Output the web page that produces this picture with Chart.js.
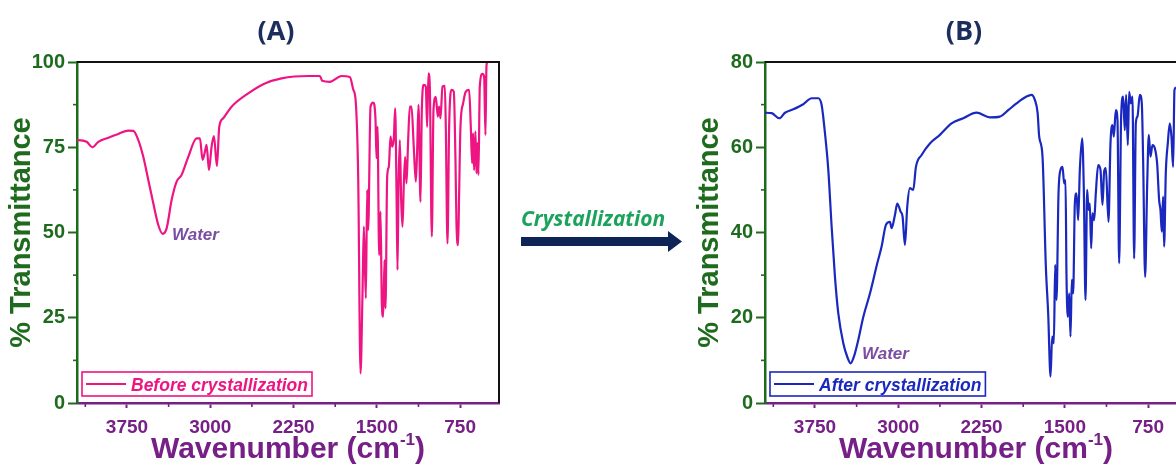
<!DOCTYPE html>
<html lang="en">
<head>
<meta charset="utf-8">
<title>FTIR spectra before and after crystallization</title>
<script src="https://cdn.jsdelivr.net/npm/chart.js@4.4.1/dist/chart.umd.min.js"></script>
<style>
    html, body { margin: 0; padding: 0; background: #fff; }
    body { width: 1176px; height: 465px; position: relative; overflow: hidden; }
    canvas { position: absolute; top: 0; }
    #chart-before { left: 0; }
    #chart-after { left: 688px; }
    #step { position: absolute; left: 500px; top: 190px; }
</style>
</head>
<body>
<canvas id="chart-before" width="520" height="465"></canvas>
<svg id="step" width="200" height="80" viewBox="0 0 200 80">
    <text x="21" y="36" font-family="'Open Sans', sans-serif" font-weight="bold" font-style="italic" font-size="21" fill="#1ba35b">Crystallization</text>
    <polygon points="21,47 168,47 168,41 182,51.5 168,62 168,56 21,56" fill="#0f2456"></polygon>
</svg>
<canvas id="chart-after" width="520" height="465"></canvas>
<script>
// —— Axes
const xMin = 400;
const xMax = 4200;
const xTicks = [3750, 3000, 2250, 1500, 750];
const xMinorTicks = [4125, 3375, 2625, 1875, 1125];

const yTicksBefore = [0, 25, 50, 75, 100];
const yMinorBefore = [12.5, 37.5, 62.5, 87.5];
const yTicksAfter = [0, 20, 40, 60, 80];
const yMinorAfter = [10, 30, 50, 70];

// —— Spectrum (A): before crystallization
const beforeWavenumber = [
    4200, 4188, 4113, 4062, 4008, 3918, 3828, 3738, 3693, 3648, 3603, 3558, 3513, 3468, 3429, 3393,
    3348, 3303, 3258, 3198, 3123, 3093, 3069, 3048, 3033, 3012, 2988, 2967, 2940, 2919, 2883, 2808,
    2658, 2508, 2358, 2118, 2013, 1992, 1923, 1818, 1743, 1713, 1689, 1668, 1647, 1629, 1617, 1599,
    1587, 1578, 1557, 1533, 1512, 1503, 1494, 1479, 1467, 1455, 1443, 1431, 1422, 1407, 1392, 1377,
    1362, 1347, 1335, 1323, 1314, 1305, 1293, 1281, 1269, 1257, 1245, 1233, 1218, 1203, 1188, 1167,
    1149, 1137, 1125, 1107, 1095, 1077, 1059, 1047, 1035, 1023, 1005, 990, 969, 951, 939, 927,
    909, 888, 879, 864, 849, 828, 807, 792, 783, 768, 759, 747, 723, 699, 669, 654,
    642, 633, 624, 612, 603, 594, 585, 573, 549, 534, 522, 513, 507,
];
const beforeTransmittance = [
    77.0, 77.1, 76.6, 75.0, 76.6, 77.8, 78.9, 79.9, 79.8, 77.1, 72.2, 65.4, 58.6, 52.2, 49.6, 51.2,
    59.5, 64.9, 66.9, 72.2, 77.6, 77.6, 71.3, 73.7, 75.7, 68.3, 75.2, 78.3, 69.5, 81.0, 83.5, 86.9,
    90.8, 93.7, 95.2, 95.9, 95.9, 94.5, 94.2, 95.9, 95.6, 92.0, 87.9, 66.4, 8.7, 32.2, 51.7, 30.7,
    62.5, 50.7, 86.9, 88.1, 83.0, 71.8, 81.0, 43.4, 56.1, 29.2, 25.3, 41.9, 27.8, 66.4, 69.3, 78.1,
    75.2, 77.6, 86.4, 62.5, 39.0, 63.4, 77.1, 59.5, 51.7, 64.4, 72.2, 64.4, 77.1, 86.9, 86.9, 74.7,
    64.9, 74.2, 87.4, 59.0, 85.9, 93.3, 92.8, 81.0, 96.7, 92.8, 48.8, 85.9, 89.8, 84.0, 86.9, 83.5,
    92.8, 93.0, 81.0, 46.8, 81.0, 91.8, 91.3, 71.3, 52.7, 46.3, 61.5, 81.0, 87.9, 91.3, 91.8, 81.0,
    70.3, 79.1, 68.3, 79.6, 67.4, 76.2, 66.9, 92.8, 96.5, 95.7, 78.6, 98.6, 100,
];

// —— Spectrum (B): after crystallization
const afterWavenumber = [
    4200, 4140, 4071, 4020, 3945, 3855, 3780, 3720, 3690, 3660, 3630, 3600, 3570, 3540, 3495, 3455,
    3430, 3400, 3360, 3315, 3255, 3189, 3150, 3111, 3075, 3060, 3030, 3009, 2979, 2961, 2940, 2919,
    2895, 2865, 2841, 2790, 2715, 2625, 2520, 2415, 2295, 2175, 2085, 2010, 1935, 1845, 1800, 1770,
    1745, 1731, 1701, 1671, 1650, 1629, 1614, 1599, 1587, 1575, 1557, 1539, 1521, 1506, 1494, 1485,
    1473, 1461, 1449, 1437, 1425, 1410, 1395, 1380, 1365, 1344, 1329, 1314, 1299, 1287, 1275, 1263,
    1251, 1236, 1221, 1200, 1179, 1161, 1146, 1131, 1107, 1089, 1071, 1059, 1041, 1026, 1011, 993,
    975, 960, 948, 933, 921, 906, 891, 876, 861, 846, 825, 807, 795, 777, 759, 744,
    729, 711, 690, 669, 651, 639, 627, 615, 606, 591, 573, 555, 540, 525, 513, 500,
];
const afterTransmittance = [
    68.1, 68.0, 66.8, 68.1, 68.9, 70.1, 71.5, 71.5, 69.9, 63.3, 54.7, 41.4, 29.6, 21.0, 14.0, 10.5,
    9.3, 10.8, 14.8, 20.2, 25.7, 32.8, 36.7, 41.8, 42.5, 41.0, 44.1, 46.8, 44.9, 43.7, 37.1, 46.1,
    50.4, 50.0, 55.4, 58.2, 60.9, 62.9, 65.6, 66.8, 68.1, 67.0, 67.2, 68.7, 70.3, 71.9, 72.3, 71.1,
    68.0, 62.5, 57.8, 32.0, 21.0, 6.2, 15.6, 14.0, 32.4, 24.2, 49.2, 54.7, 55.4, 51.5, 52.3, 29.6,
    20.2, 25.7, 15.6, 28.9, 25.7, 46.8, 49.2, 42.9, 54.7, 62.1, 50.0, 24.2, 50.0, 45.3, 46.8, 36.3,
    44.5, 42.9, 49.2, 55.8, 54.7, 46.5, 54.3, 55.1, 42.5, 60.9, 65.2, 62.5, 68.7, 66.4, 32.8, 67.2,
    71.9, 64.0, 72.3, 60.5, 73.0, 70.3, 71.9, 33.9, 65.6, 67.2, 72.3, 70.3, 57.0, 29.6, 50.7, 62.9,
    57.8, 60.5, 59.8, 56.2, 47.6, 45.3, 40.2, 48.4, 36.7, 53.9, 60.9, 65.6, 62.5, 55.4, 73.4, 74.0,
];

const green = '#1e6b1e';
const purple = '#761f86';
const axisFont = '"Liberation Sans", Arial, sans-serif';

// frame, minor ticks, legend box, labels and titles drawn over each panel
const panelDecor = {
    id: 'panelDecor',
    afterDraw(chart, args, opts) {
        const { ctx, chartArea: a, scales } = chart;
        const ds = chart.data.datasets[0];
        ctx.save();

        // top / right frame
        ctx.strokeStyle = '#111';
        ctx.lineWidth = 2;
        ctx.beginPath();
        ctx.moveTo(a.left, a.top);
        ctx.lineTo(a.right, a.top);
        ctx.lineTo(a.right, a.bottom);
        ctx.stroke();

        // minor ticks
        ctx.lineWidth = 1.6;
        ctx.strokeStyle = purple;
        xMinorTicks.forEach((v) => {
            const px = scales.x.getPixelForValue(v);
            ctx.beginPath();
            ctx.moveTo(px, a.bottom);
            ctx.lineTo(px, a.bottom + 4);
            ctx.stroke();
        });
        ctx.strokeStyle = green;
        opts.yMinor.forEach((v) => {
            const py = scales.y.getPixelForValue(v);
            ctx.beginPath();
            ctx.moveTo(a.left - 4, py);
            ctx.lineTo(a.left, py);
            ctx.stroke();
        });

        // legend box
        ctx.font = `italic bold 17.5px ${axisFont}`;
        const tw = ctx.measureText(ds.label).width;
        const bx = a.left + 5;
        const by = a.bottom - 31;
        const bh = 24;
        const bw = 49 + tw + 4;
        ctx.fillStyle = '#fff';
        ctx.fillRect(bx, by, bw, bh);
        ctx.strokeStyle = ds.borderColor;
        ctx.lineWidth = 1.6;
        ctx.strokeRect(bx, by, bw, bh);
        ctx.lineWidth = 2;
        ctx.beginPath();
        ctx.moveTo(bx + 4, by + bh / 2);
        ctx.lineTo(bx + 44, by + bh / 2);
        ctx.stroke();
        ctx.fillStyle = ds.borderColor;
        ctx.textBaseline = 'alphabetic';
        ctx.textAlign = 'left';
        ctx.fillText(ds.label, bx + 49, by + 18.5);

        // water band label
        ctx.font = `italic bold 17px ${axisFont}`;
        ctx.fillStyle = '#7a4fa3';
        ctx.fillText(opts.water.text,
            scales.x.getPixelForValue(opts.water.x),
            scales.y.getPixelForValue(opts.water.y));

        // panel title
        ctx.font = 'bold 27px "Open Sans", sans-serif';
        ctx.fillStyle = '#1c2e5b';
        ctx.textAlign = 'center';
        ctx.fillText(opts.title, 276, 40);

        // x title with superscript
        const big = `bold 30px ${axisFont}`;
        const small = `bold 17px ${axisFont}`;
        const main = 'Wavenumber (cm';
        const sup = '-1';
        const close = ')';
        ctx.font = big;
        const w1 = ctx.measureText(main).width;
        const w3 = ctx.measureText(close).width;
        ctx.font = small;
        const w2 = ctx.measureText(sup).width;
        let tx = (a.left + a.right) / 2 - (w1 + w2 + w3) / 2;
        const ty = 458;
        ctx.textAlign = 'left';
        ctx.fillStyle = purple;
        ctx.font = big;
        ctx.fillText(main, tx, ty);
        tx += w1;
        ctx.font = small;
        ctx.fillText(sup, tx, ty - 13);
        tx += w2;
        ctx.font = big;
        ctx.fillText(close, tx, ty);

        ctx.restore();
    },
};

function spectrumChart(canvasId, label, color, xs, ys, yMax, yTicks, yMinor, title, water) {
    const canvas = document.getElementById(canvasId);
    if (!canvas) return;
    new Chart(canvas.getContext('2d'), {
        type: 'line',
        data: {
            datasets: [
                {
                    label,
                    data: xs.map((w, i) => ({ x: w, y: ys[i] })),
                    borderColor: color,
                    borderWidth: 2.2,
                    pointRadius: 0,
                    cubicInterpolationMode: 'monotone',
                    fill: false,
                },
            ],
        },
        options: {
            responsive: false,
            animation: false,
            events: [],
            layout: { padding: { top: 62, right: 21, left: 0, bottom: 0 } },
            plugins: {
                legend: { display: false },
                tooltip: { enabled: false },
                panelDecor: { title, water, yMinor },
            },
            scales: {
                x: {
                    type: 'linear',
                    reverse: true,
                    min: xMin,
                    max: xMax,
                    afterBuildTicks: (s) => { s.ticks = xTicks.map((v) => ({ value: v })); },
                    afterFit: (s) => { s.height = 62; },
                    ticks: {
                        color: purple,
                        padding: 8,
                        maxRotation: 0,
                        autoSkip: false,
                        callback: (v) => String(v),
                        font: { family: axisFont, size: 19, weight: 'bold' },
                    },
                    grid: { drawOnChartArea: false, tickLength: 5, tickColor: purple, tickWidth: 2 },
                    border: { color: purple, width: 2.5 },
                },
                y: {
                    min: 0,
                    max: yMax,
                    afterBuildTicks: (s) => { s.ticks = yTicks.map((v) => ({ value: v })); },
                    afterFit: (s) => { s.width = 77; },
                    ticks: {
                        color: green,
                        padding: 3,
                        callback: (v) => String(v),
                        font: { family: axisFont, size: 20, weight: 'bold' },
                    },
                    grid: { drawOnChartArea: false, tickLength: 9, tickColor: green, tickWidth: 2 },
                    border: { color: green, width: 2.5 },
                    title: {
                        display: true,
                        text: '% Transmittance',
                        color: green,
                        padding: { top: 5, bottom: 0 },
                        font: { family: axisFont, size: 29, weight: 'bold' },
                    },
                },
            },
        },
        plugins: [panelDecor],
    });
}

spectrumChart('chart-before', 'Before crystallization', '#ee1583',
    beforeWavenumber, beforeTransmittance, 100, yTicksBefore, yMinorBefore,
    '(A)', { text: 'Water', x: 3345, y: 47.8 });

spectrumChart('chart-after', 'After crystallization', '#1a28bf',
    afterWavenumber, afterTransmittance, 80, yTicksAfter, yMinorAfter,
    '(B)', { text: 'Water', x: 3327, y: 10.3 });
</script>
</body>
</html>
